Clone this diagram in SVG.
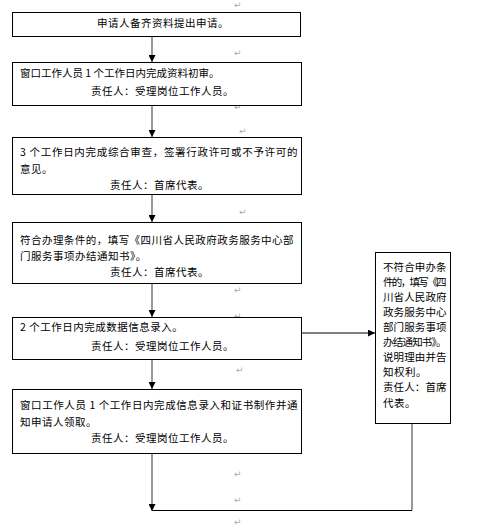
<svg xmlns="http://www.w3.org/2000/svg" width="484" height="528" viewBox="0 0 484 528">
<style>
.box{fill:#fff;stroke:#000;stroke-width:1}
.t{font-family:"Noto Sans CJK SC","Liberation Sans",sans-serif;font-size:10.5px;fill:#000;letter-spacing:0.5px}
.pm{font-family:"DejaVu Sans",sans-serif;font-size:9px;fill:#aaa}
.v{stroke:#808080;stroke-width:1.6;fill:none}
.h{stroke:#000;stroke-width:1.2;fill:none}
</style>
<defs>
<marker id="ah" viewBox="0 0 10 10" refX="10" refY="5" markerWidth="7" markerHeight="7" markerUnits="userSpaceOnUse" orient="auto">
<path d="M0,0 L10,5 L0,10 z" fill="#000"/>
</marker>
</defs>
<rect width="484" height="528" fill="#fff"/>
<g id="marks" class="pm">
<text x="234" y="8">↵</text>
<text x="234" y="56">↵</text>
<text x="234" y="110">↵</text>
<text x="239" y="134">↵</text>
<text x="239" y="215">↵</text>
<text x="234" y="293">↵</text>
<text x="234" y="319">↵</text>
<text x="236" y="373">↵</text>
<text x="234" y="477">↵</text>
<text x="234" y="503">↵</text>
<text x="234" y="525">↵</text>
</g>
<g id="connectors">
<line class="v" x1="152" y1="36" x2="152" y2="62" marker-end="url(#ah)"/>
<line class="v" x1="152" y1="105" x2="152" y2="137" marker-end="url(#ah)"/>
<line class="v" x1="152" y1="194" x2="152" y2="222" marker-end="url(#ah)"/>
<line class="v" x1="152" y1="283" x2="152" y2="317" marker-end="url(#ah)"/>
<line class="v" x1="152" y1="359" x2="152" y2="389" marker-end="url(#ah)"/>
<line class="h" x1="302" y1="333" x2="375" y2="333" marker-end="url(#ah)"/>
<line class="v" x1="152" y1="453" x2="152" y2="511" marker-end="url(#ah)"/>
<polyline class="v" points="412,423 412,510"/>
<line class="h" x1="412" y1="510.5" x2="152" y2="510.5"/>
</g>
<g id="n1">
<rect class="box" x="12.5" y="12.5" width="288" height="24"/>
<text class="t" x="97" y="27">申请人备齐资料提出申请。</text>
</g>
<g id="n2">
<rect class="box" x="12.5" y="62.5" width="289" height="43"/>
<text class="t" x="20" y="77" textLength="200">窗口工作人员 1 个工作日内完成资料初审。</text>
<text class="t" x="91" y="95">责任人：受理岗位工作人员。</text>
</g>
<g id="n3">
<rect class="box" x="12.5" y="137.5" width="289" height="57"/>
<text class="t" x="20" y="156" textLength="278">3 个工作日内完成综合审查，签署行政许可或不予许可的</text>
<text class="t" x="20" y="173">意见。</text>
<text class="t" x="110" y="189">责任人：首席代表。</text>
</g>
<g id="n4">
<rect class="box" x="12.5" y="222.5" width="289" height="61"/>
<text class="t" x="20" y="244" textLength="274">符合办理条件的，填写《四川省人民政府政务服务中心部</text>
<text class="t" x="20" y="260">门服务事项办结通知书》。</text>
<text class="t" x="110" y="276">责任人：首席代表。</text>
</g>
<g id="n5">
<rect class="box" x="12.5" y="317.5" width="289" height="42"/>
<text class="t" x="20" y="331">2 个工作日内完成数据信息录入。</text>
<text class="t" x="91" y="350">责任人：受理岗位工作人员。</text>
</g>
<g id="n6">
<rect class="box" x="12.5" y="389.5" width="289" height="64"/>
<text class="t" x="20" y="409" textLength="278">窗口工作人员 1 个工作日内完成信息录入和证书制作并通</text>
<text class="t" x="20" y="426">知申请人领取。</text>
<text class="t" x="91" y="442">责任人：受理岗位工作人员。</text>
</g>
<g id="n7">
<rect class="box" x="375.5" y="252.5" width="75" height="171"/>
<text class="t" x="383" y="271" textLength="64">不符合申办条</text>
<text class="t" x="383" y="286" textLength="64">件的，填写《四</text>
<text class="t" x="383" y="301" textLength="64">川省人民政府</text>
<text class="t" x="383" y="316" textLength="64">政务服务中心</text>
<text class="t" x="383" y="331" textLength="64">部门服务事项</text>
<text class="t" x="383" y="346" textLength="64">办结通知书》。</text>
<text class="t" x="383" y="361" textLength="64">说明理由并告</text>
<text class="t" x="383" y="376">知权利。</text>
<text class="t" x="383" y="391" textLength="64">责任人：首席</text>
<text class="t" x="383" y="407">代表。</text>
</g>
</svg>
